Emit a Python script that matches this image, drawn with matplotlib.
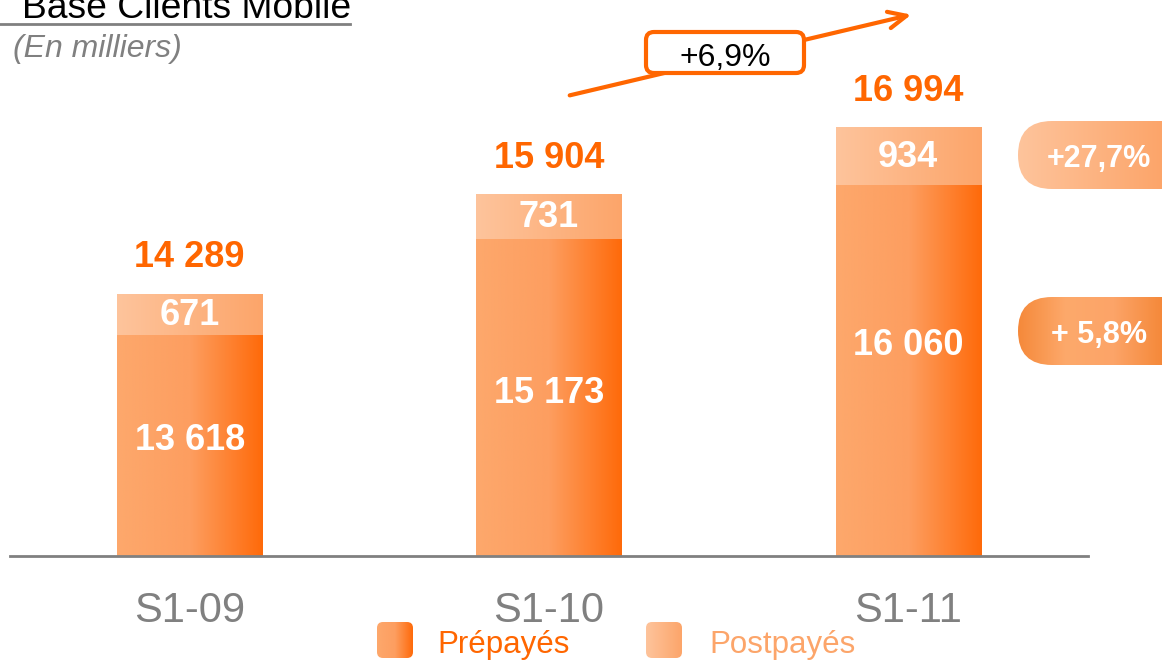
import matplotlib
matplotlib.use("Agg")
import matplotlib.pyplot as plt
import numpy as np
from matplotlib.colors import LinearSegmentedColormap
from matplotlib.patches import FancyBboxPatch

plt.rcParams['font.family'] = ['Liberation Sans', 'DejaVu Sans']

# data (en milliers)
periods = ["S1-09", "S1-10", "S1-11"]
prepaid = [13618, 15173, 16060]
postpaid = [671, 731, 934]
totals = [14289, 15904, 16994]
growth_total = "+6,9%"
growth_post = "+27,7%"
growth_pre = "+ 5,8%"

ORANGE = "#FF6600"
GREY = "#808080"
cm_pre = LinearSegmentedColormap.from_list("pre", ["#FDA86C", "#FD9E60", "#FF6A0A"])
cm_post = LinearSegmentedColormap.from_list("post", ["#FEC49C", "#FCA56A"])
cm_badge = LinearSegmentedColormap.from_list("badge", ["#F5893A", "#FDA96B", "#FCA468", "#F5893A"])

W, H = 1162, 660
fig = plt.figure(figsize=(W / 100, H / 100), dpi=100)
ax = fig.add_axes([10 / W, 104 / H, 1078 / W, 556 / H])
ymin, scale = 10020, 0.06146
ylim = (ymin, ymin + 556 / scale)

grad = np.linspace(0, 1, 256).reshape(1, -1)


def fill_gradient(axis, patch, cmap, floor=None, zorder=2):
    x0, y0 = patch.get_x(), patch.get_y()
    x1, y1 = x0 + patch.get_width(), y0 + patch.get_height()
    if floor is not None:
        y0 = max(y0, floor)
    im = axis.imshow(grad, cmap=cmap, extent=(x0, x1, y0, y1), aspect='auto',
                     interpolation='bilinear', zorder=zorder)
    im.set_clip_path(patch)
    return im


def fmt(v):
    return f"{v:,}".replace(",", " ")


x = np.arange(len(periods))
bw = 0.404
bars_pre = ax.bar(x, prepaid, bw, bottom=0, color="none", edgecolor="none")
bars_post = ax.bar(x, postpaid, bw, bottom=prepaid, color="none", edgecolor="none")
for p in bars_pre:
    fill_gradient(ax, p, cm_pre, floor=ylim[0])
for p in bars_post:
    fill_gradient(ax, p, cm_post, floor=ylim[0])

ax.set_xlim(-0.5, 2.5)
ax.set_ylim(*ylim)
for s in ["top", "left", "right"]:
    ax.spines[s].set_visible(False)
ax.spines["bottom"].set_color(GREY)
ax.spines["bottom"].set_linewidth(2)
ax.spines["bottom"].set_zorder(6)
ax.set_xticks([])
ax.set_yticks([])
ax.patch.set_alpha(0)

px = 0.72  # points per pixel
prep_shift = [9, 8, 29]
for i in range(len(periods)):
    # prepaid label
    mid = (ymin + prepaid[i]) / 2
    ax.annotate(fmt(prepaid[i]), (x[i], mid), xytext=(0, prep_shift[i] * px),
                textcoords="offset points", ha="center", va="center_baseline",
                fontsize=26, fontweight="bold", color="white", zorder=5)
    # postpaid label
    ax.annotate(fmt(postpaid[i]), (x[i], prepaid[i] + postpaid[i] / 2),
                xytext=(0, 3 * px), textcoords="offset points", ha="center",
                va="center_baseline", fontsize=26, fontweight="bold",
                color="white", zorder=5)
    # total
    ax.annotate(fmt(totals[i]), (x[i], totals[i]), xytext=(0, 40 * px),
                textcoords="offset points", ha="center", va="center_baseline",
                fontsize=26, fontweight="bold", color=ORANGE, zorder=5)
    # category
    ax.annotate(periods[i], (x[i], ymin), xytext=(0, -51 * px),
                textcoords="offset points", ha="center", va="center_baseline",
                fontsize=30, color=GREY, annotation_clip=False)

# overlay in pixel coordinates for decorations
ov = fig.add_axes([0, 0, 1, 1], zorder=3)
ov.set_xlim(0, W)
ov.set_ylim(H, 0)
ov.axis("off")
ov.patch.set_alpha(0)

ov.text(22, 18, "Base Clients Mobile", fontsize=26.8, color="black",
        ha="left", va="baseline")
ov.plot([0, 350], [24, 24], color=GREY, lw=2)
ov.text(13, 46, "(En milliers)", fontsize=23, style="italic", color=GREY,
        ha="left", va="center_baseline")

# growth arrow
ov.annotate("", xy=(914, 14), xytext=(567, 96),
            arrowprops=dict(arrowstyle="->,head_length=1.3,head_width=0.6",
                            color=ORANGE, lw=3))
box = FancyBboxPatch((646, 32), 158, 41, boxstyle="round,pad=0,rounding_size=8",
                     fc="white", ec=ORANGE, lw=3, zorder=4)
ov.add_patch(box)
ov.text(725, 54, growth_total, fontsize=23, color="black", ha="center",
        va="center_baseline", zorder=5)

# badges
for (y0, y1, cmap, label) in [(121, 189, cm_post, growth_post),
                              (297, 365, cm_badge, growth_pre)]:
    pill = FancyBboxPatch((1018, y0), 220, y1 - y0,
                          boxstyle=f"round,pad=0,rounding_size={(y1 - y0) / 2}",
                          fc="none", ec="none")
    ov.add_patch(pill)
    im = ov.imshow(grad, cmap=cmap, extent=(1018, 1162, y1, y0), aspect='auto',
                   interpolation='bilinear', zorder=2)
    im.set_clip_path(pill)
    ov.text(1099, (y0 + y1) / 2, label, fontsize=22, fontweight="bold",
            color="white", ha="center", va="center_baseline", zorder=5)

# legend
for (lx, tx, cmap, label, col) in [(377, 437, cm_pre, "Prépayés", ORANGE),
                                   (646, 709, cm_post, "Postpayés", "#FCA56A")]:
    sq = FancyBboxPatch((lx, 622), 36, 36, boxstyle="round,pad=0,rounding_size=6",
                        fc="none", ec="none")
    ov.add_patch(sq)
    im = ov.imshow(grad, cmap=cmap, extent=(lx, lx + 36, 658, 622), aspect='auto',
                   interpolation='bilinear', zorder=2)
    im.set_clip_path(sq)
    ov.text(tx, 641, label, fontsize=22.5, color=col, ha="left",
            va="center_baseline", zorder=5)

ov.set_xlim(0, W)
ov.set_ylim(H, 0)

fig.savefig("out.png", dpi=100)
